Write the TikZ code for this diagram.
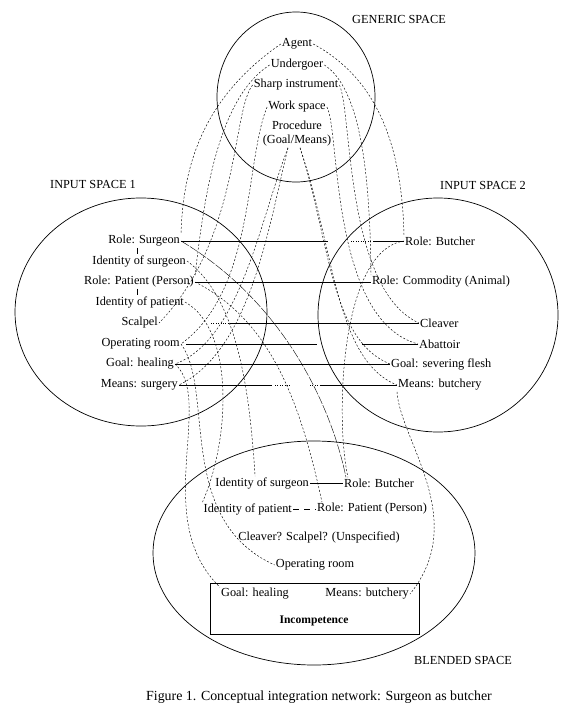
\documentclass[tikz,border=0pt]{standalone}
\usepackage{fontspec}
\setmainfont{Liberation Serif}
\begin{document}
\begin{tikzpicture}[x=1pt,y=-1pt,
  txt/.style={font=\fontsize{12.3}{14}\selectfont, inner sep=1pt},
  map/.style={line width=0.45pt, dash pattern=on 2pt off 1.8pt},
  thinline/.style={line width=0.4pt, dash pattern=on 9pt off 1.5pt},
  dots/.style={line width=0.45pt, dash pattern=on 0.8pt off 1.6pt},
  link/.style={line width=0.65pt},
  space/.style={line width=0.7pt}]
\useasboundingbox (0,0) rectangle (586,720);

% spaces
\draw[space] (296,97) ellipse [x radius=79pt, y radius=85pt];
\draw[space] (141,312) ellipse [x radius=126pt, y radius=114pt];
\draw[space] (438,315) ellipse [x radius=120pt, y radius=117pt];
\draw[space] (314,553) ellipse [x radius=161pt, y radius=112pt];

% labels
\node[txt] (glabel) at (399,19) {GENERIC SPACE};
\node[txt] (l1label) at (93,184) {INPUT SPACE 1};
\node[txt] (l2label) at (483,185) {INPUT SPACE 2};
\node[txt] (blabel) at (463,660) {BLENDED SPACE};
\node[txt, font=\fontsize{13.9}{16}\selectfont] (caption) at (319,697) {Figure 1. Conceptual integration network: Surgeon as butcher};

% generic space
\node[txt] (gagent) at (297,44) {Agent};
\node[txt] (gund) at (297,65) {Undergoer};
\node[txt] (gsharp) at (296,85) {Sharp instrument};
\node[txt] (gwork) at (297,107) {Work space};
\node[txt, align=center] (gproc) at (297,134) {Procedure\\(Goal/Means)};

% input space 1
\node[txt, anchor=east] (s1role) at (181,241) {Role: Surgeon};
\node[txt, anchor=east] (s1ids) at (187,261) {Identity of surgeon};
\node[txt, anchor=east] (s1rp) at (195,282) {Role: Patient (Person)};
\node[txt, anchor=east] (s1idp) at (185,302) {Identity of patient};
\node[txt, anchor=east] (s1scal) at (159,323) {Scalpel};
\node[txt, anchor=east] (s1or) at (181,344) {Operating room};
\node[txt, anchor=east] (s1goal) at (175,364) {Goal: healing};
\node[txt, anchor=east] (s1means) at (179,385) {Means: surgery};

% input space 2
\node[txt, anchor=west] (s2role) at (404,241) {Role: Butcher};
\node[txt, anchor=west] (s2com) at (371,282) {Role: Commodity (Animal)};
\node[txt, anchor=west] (s2cl) at (419,323) {Cleaver};
\node[txt, anchor=west] (s2ab) at (418,344) {Abattoir};
\node[txt, anchor=west] (s2goal) at (390,364) {Goal: severing flesh};
\node[txt, anchor=west] (s2means) at (397,385) {Means: butchery};

% blended space
\node[txt, anchor=east] (bids) at (310,483) {Identity of surgeon};
\node[txt, anchor=west] (brb) at (343,483) {Role: Butcher};
\node[txt, anchor=east] (bidp) at (293,509) {Identity of patient};
\node[txt, anchor=west] (brp) at (316,509) {Role: Patient (Person)};
\node[txt] (bcl) at (319,537) {Cleaver? Scalpel? (Unspecified)};
\node[txt] (bor) at (315,565) {Operating room};
\node[draw, line width=0.7pt, minimum width=209pt, minimum height=51pt, inner sep=0pt] (bbox) at (314.5,608.5) {};
\node[txt, anchor=west] (bgoal) at (220,594) {Goal: healing};
\node[txt, anchor=east] (bmeans) at (410,594) {Means: butchery};
\node[txt, font=\fontsize{11.6}{14}\selectfont\bfseries] (binc) at (314,621) {Incompetence};

% cross-space (solid) mappings
\draw[link] (s1role.east) -- ++(147,0);
\draw[dots] ([xshift=170pt]s1role.east) -- ([xshift=191pt]s1role.east);
\draw[link] (s2role.west) -- ++(-31,0);
\draw[link] (s1rp.east) -- (s2com.west);
\draw[dots] ([xshift=52pt]s1scal.east) -- ([xshift=72pt]s1scal.east);
\draw[link] ([xshift=72pt]s1scal.east) -- (s2cl.west);
\draw[link] ([xshift=5pt]s1or.east) -- ++(131,0);
\draw[link] (s2ab.west) -- ++(-56,0);
\draw[link] (s1goal.east) -- (s2goal.west);
\draw[link] (s1means.east) -- ++(93,0);
\draw[dots] ([xshift=96pt]s1means.east) -- ([xshift=111pt]s1means.east);
\draw[dots] ([xshift=131pt]s1means.east) -- ([xshift=141pt]s1means.east);
\draw[link] ([xshift=141pt]s1means.east) -- (s2means.west);
\draw[link] (137,0 |- s1role.south) -- (137,0 |- s1ids.north);
\draw[link] (137,0 |- s1rp.south) -- (137,0 |- s1idp.north);

% blend links
\draw[link] (bids.east) -- (brb.west);
\draw[line width=0.65pt, dash pattern=on 6pt off 5pt] (bidp.east) -- (brp.west);

% generic -> input 1
\draw[map] (gagent.west) .. controls (200,100) and (183,170) .. (s1role.north east);
\draw[map] (gund.west) .. controls (215,100) and (203,210) .. (s1rp.north east);
\draw[map] (gsharp.west) .. controls (232,110) and (240,240) .. (s1scal.east);
\draw[map] (gwork.west) .. controls (245,160) and (255,290) .. (s1or.east);
\draw[map] ([xshift=-9pt]gproc.south) .. controls (260,220) and (240,340) .. (s1goal.east);
\draw[map] ([xshift=-9pt]gproc.south) .. controls (268,230) and (250,350) .. (s1means.east);

% generic -> input 2
\draw[map] (gagent.east) .. controls (380,80) and (402,150) .. (s2role.north west);
\draw[map] (gund.east) .. controls (355,85) and (370,150) .. (s2com.north west);
\draw[map] (gsharp.east) .. controls (352,110) and (345,290) .. (s2cl.west);
\draw[map] (gwork.east) .. controls (340,130) and (330,320) .. (s2ab.west);
\draw[map] ([xshift=3pt]gproc.south) .. controls (330,240) and (330,340) .. (s2goal.west);
\draw[map] ([xshift=3pt]gproc.south) .. controls (335,250) and (335,360) .. (s2means.west);

% inputs -> blend
\draw[map] (s1ids.east) .. controls (240,300) and (250,400) .. ([xshift=-7pt]bids.north);
\draw[map] (s1idp.east) .. controls (235,330) and (230,440) .. (bidp.north west);
\draw[map] (s1rp.east) .. controls (270,320) and (300,400) .. ([xshift=6pt]brp.north west);
\draw[thinline] (s1role.east) .. controls (280,300) and (330,400) .. ([xshift=3pt]brb.north west);
\draw[map] (s2role.west) .. controls (340,250) and (335,420) .. ([xshift=5pt]brb.north west);
\draw[map] (s1or.east) .. controls (215,390) and (175,520) .. (bor.west);
\draw[map] (s1goal.east) .. controls (215,400) and (150,520) .. (bgoal.north west);
\draw[map] (s2means.south west) .. controls (400,440) and (470,520) .. (bmeans.east);
\end{tikzpicture}
\end{document}
